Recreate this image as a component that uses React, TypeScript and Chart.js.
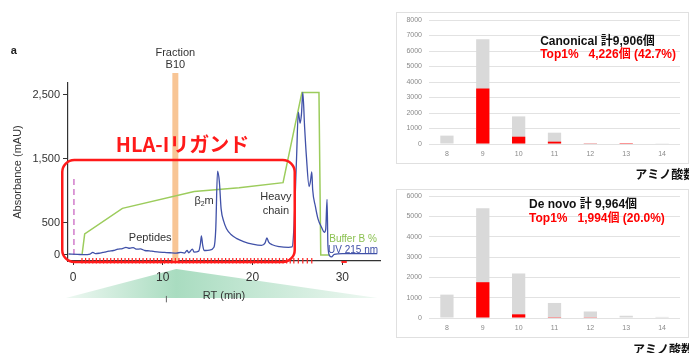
import React, { useEffect, useRef } from 'react';
import { Chart, registerables } from 'chart.js';

Chart.register(...registerables);

const FONT = "'Liberation Sans', Arial, 'Noto Sans CJK JP', sans-serif";
const JP_FONT = "'Noto Sans CJK JP', 'Liberation Sans', sans-serif";

// ---------------- Left panel: chromatogram ----------------
const rtTickValues = [0, 10, 20, 30];
const absTickValues = [0, 500, 1500, 2500];

const uvRT = [-0.5, 0.5, 1.2, 1.9, 2.2, 2.5, 3.0, 3.5, 4.0, 4.5, 5.0, 5.5, 5.9, 6.3, 6.7, 7.1, 7.5, 8.0, 8.5, 9.0, 9.6, 10.2, 10.8, 11.5, 12.0, 12.4, 12.7, 12.9, 13.3, 13.5, 14.0, 14.2, 14.3, 14.45, 14.6, 15.2, 15.7, 15.9, 16.1, 16.3, 16.5, 16.8, 17.1, 17.6, 18.2, 19.0, 20.0, 21.0, 21.4, 21.6, 21.8, 22.2, 23.0, 24.0, 24.4, 24.6, 24.9, 25.1, 25.3, 25.45, 25.6, 25.8, 26.0, 26.3, 26.45, 26.6, 26.7, 27.0, 27.3, 27.7, 28.0, 28.15, 28.3, 28.4, 28.6, 28.8, 29.1, 30.0, 33.9];
const uvAbs = [15, 10, 5, 15, 40, 20, 30, 45, 60, 70, 90, 100, 120, 105, 115, 90, 95, 70, 65, 55, 45, 40, 35, 30, 40, 30, 70, 35, 90, 45, 60, 180, 300, 150, 70, 75, 120, 400, 1310, 1150, 720, 520, 410, 320, 260, 210, 170, 150, 190, 265, 200, 160, 130, 120, 125, 400, 1500, 2230, 2060, 2200, 2540, 2000, 1540, 1070, 1150, 1300, 1020, 760, 560, 430, 355, 400, 870, 140, -15, -30, 10, 20, 20];

const bufferRT = [1.0, 1.3, 5.5, 13.5, 18.5, 23.4, 25.5, 27.4, 27.6, 28.6];
const bufferPct = [0, 13, 28.7, 39, 41.3, 44.5, 100, 100, 0, 0];

const fractionRT = [1.0, 1.4, 1.8, 2.2, 2.6, 3.0, 3.4, 3.8, 4.2, 4.6, 5.0, 5.4, 5.8, 6.2, 6.6, 7.0, 7.4, 7.8, 8.2, 8.6, 9.0, 9.4, 9.8, 10.2, 10.6, 11.0, 11.4, 11.8, 12.2, 12.6, 13.0, 13.4, 13.8, 14.2, 14.6, 15.0, 15.4, 15.8, 16.2, 16.6, 17.0, 17.4, 17.8, 18.2, 18.6, 19.0, 19.4, 19.8, 20.2, 20.6, 21.0, 21.4, 21.8, 22.2, 22.6, 23.0, 23.4, 23.8, 24.2, 24.6, 25.1, 25.6, 26.1, 26.6];
const wasteFractionRT = [29.9, 30.5];
const selectedFractionRT = 11.4;
const injectionRT = 0.1;
const injectionAbs = [0, 1210];

const RT_MIN = -0.56;
const RT_MAX = 34.2;
const ABS_MIN = -94;
const ABS_MAX = 2687;
const BUFFER_FULL_ABS = 2540; // absorbance level matching 100 % buffer B

// annotation anchors (data units)
const ligandBox = { rt0: -1.2, rt1: 24.7, abs0: -109, abs1: 1484 };
const wedge = { apexRT: 11.5, apexAbs: -219, fromRT: -0.8, toRT: 33.9, baseAbs: -672 };

const chromPlugin = {
  id: 'chromAnnotations',
  beforeDraw(chart: any) {
    const { ctx } = chart;
    const X = (v: number) => chart.scales.x.getPixelForValue(v);
    const Y = (v: number) => chart.scales.y.getPixelForValue(v);
    const ax = X(wedge.apexRT), ay = Y(wedge.apexAbs);
    const bl = X(wedge.fromRT), br = X(wedge.toRT), by = Y(wedge.baseAbs);
    const g = ctx.createLinearGradient(bl, 0, br, 0);
    const f = (ax - bl) / (br - bl);
    g.addColorStop(0, '#eef8f2');
    g.addColorStop(f, '#a9dcc0');
    g.addColorStop(1, '#eef8f2');
    ctx.save();
    ctx.beginPath();
    ctx.moveTo(ax, ay);
    ctx.lineTo(br, by);
    ctx.lineTo(bl, by);
    ctx.closePath();
    ctx.fillStyle = g;
    ctx.fill();
    ctx.strokeStyle = '#666';
    ctx.lineWidth = 1;
    ctx.beginPath();
    ctx.moveTo(X(10.4), Y(-640));
    ctx.lineTo(X(10.4), Y(-740));
    ctx.stroke();
    ctx.restore();
  },
  afterDatasetsDraw(chart: any) {
    const { ctx } = chart;
    const X = (v: number) => chart.scales.x.getPixelForValue(v);
    const Y = (v: number) => chart.scales.y.getPixelForValue(v);
    ctx.save();
    // red rounded box
    const x0 = X(ligandBox.rt0), x1 = X(ligandBox.rt1);
    const y0 = Y(ligandBox.abs1), y1 = Y(ligandBox.abs0);
    const r = 12;
    ctx.beginPath();
    ctx.moveTo(x0 + r, y0);
    ctx.arcTo(x1, y0, x1, y1, r);
    ctx.arcTo(x1, y1, x0, y1, r);
    ctx.arcTo(x0, y1, x0, y0, r);
    ctx.arcTo(x0, y0, x1, y0, r);
    ctx.closePath();
    ctx.strokeStyle = '#ff1a1a';
    ctx.lineWidth = 2.5;
    ctx.stroke();

    const text = (s: string, rt: number, abs: number, font: string, color: string, align: CanvasTextAlign = 'center') => {
      ctx.font = font;
      ctx.fillStyle = color;
      ctx.textAlign = align;
      ctx.textBaseline = 'middle';
      ctx.fillText(s, X(rt), Y(abs));
    };
    text('HLA-Iリガンド', 12.2, 1734, `bold 20px ${JP_FONT}`, '#ff1a1a');
    text('a', -6.6, 3188, `bold 11px ${FONT}`, '#222');
    text('Fraction', selectedFractionRT, 3156, `11px ${FONT}`, '#333');
    text('B10', selectedFractionRT, 2969, `11px ${FONT}`, '#333');
    text('Peptides', 8.6, 265, `11px ${FONT}`, '#333');
    text('Heavy', 22.6, 906, `11px ${FONT}`, '#333');
    text('chain', 22.6, 688, `11px ${FONT}`, '#333');
    text('Buffer B %', 31.2, 250, `10px ${FONT}`, '#8cc152');
    text('UV 215 nm', 31.2, 78, `10px ${FONT}`, '#3f4fa6');
    // beta2m with subscript
    ctx.font = `11px ${FONT}`;
    const wb = ctx.measureText('β').width;
    const wm = ctx.measureText('m').width;
    ctx.font = `7px ${FONT}`;
    const w2 = ctx.measureText('2').width;
    const cx = X(14.6), cy = Y(844);
    let sx = cx - (wb + w2 + wm) / 2;
    ctx.textAlign = 'left';
    ctx.textBaseline = 'middle';
    ctx.fillStyle = '#333';
    ctx.font = `11px ${FONT}`;
    ctx.fillText('β', sx, cy);
    sx += wb;
    ctx.font = `7px ${FONT}`;
    ctx.fillText('2', sx, cy + 3);
    sx += w2;
    ctx.font = `11px ${FONT}`;
    ctx.fillText('m', sx, cy);
    ctx.restore();
  },
};

function chromConfig(): any {
  const pts = (xs: number[], ys: number[]) => xs.map((x, i) => ({ x, y: ys[i] }));
  return {
    type: 'line',
    data: {
      datasets: [
        {
          label: 'Fractions',
          data: fractionRT.map((x) => ({ x, y: -90 })),
          showLine: false,
          pointStyle: 'line',
          rotation: 90,
          pointRadius: 2.8,
          pointBorderColor: '#ff2020',
          pointBorderWidth: 1.2,
          borderColor: '#ff2020',
          clip: false,
          order: 0,
        },
        {
          label: 'Waste',
          data: wasteFractionRT.map((x) => ({ x, y: -109 })),
          borderColor: '#ff2020',
          borderWidth: 2,
          pointRadius: 0,
          clip: false,
          order: 0,
        },
        {
          label: 'UV 215 nm',
          data: pts(uvRT, uvAbs),
          borderColor: '#4051a8',
          borderWidth: 1.3,
          pointRadius: 0,
          cubicInterpolationMode: 'monotone',
          order: 1,
        },
        {
          label: 'Buffer B %',
          data: pts(bufferRT, bufferPct),
          yAxisID: 'y2',
          borderColor: '#9ccc5c',
          borderWidth: 1.5,
          pointRadius: 0,
          order: 2,
        },
        {
          label: 'Injection',
          data: injectionAbs.map((y) => ({ x: injectionRT, y })),
          borderColor: '#d27ccb',
          borderWidth: 1.5,
          borderDash: [6, 4],
          pointRadius: 0,
          order: 3,
        },
        {
          label: 'Fraction B10',
          data: [{ x: selectedFractionRT, y: ABS_MIN }, { x: selectedFractionRT, y: 2844 }],
          borderColor: '#f8c595',
          borderWidth: 6,
          borderCapStyle: 'butt',
          pointRadius: 0,
          clip: false,
          order: 5,
        },
      ],
    },
    options: {
      responsive: false,
      animation: false,
      devicePixelRatio: 1,
      layout: { padding: { left: 0, top: 83, right: 20, bottom: 0 } },
      plugins: { legend: { display: false }, tooltip: { enabled: false } },
      scales: {
        x: {
          type: 'linear',
          min: RT_MIN,
          max: RT_MAX,
          afterBuildTicks: (s: any) => { s.ticks = rtTickValues.map((v) => ({ value: v })); },
          afterFit: (s: any) => { s.height = 92; },
          grid: { drawOnChartArea: false, drawTicks: true, tickLength: 4, color: '#333', lineWidth: 1 },
          border: { display: true, color: '#333', width: 1.2 },
          ticks: { color: '#333', font: { family: FONT, size: 12 }, padding: 5, maxRotation: 0, autoSkip: false, callback: (v: any) => String(v) },
          title: { display: true, text: 'RT (min)', color: '#333', font: { family: FONT, size: 11 }, padding: { top: 0, bottom: 50 } },
        },
        y: {
          type: 'linear',
          min: ABS_MIN,
          max: ABS_MAX,
          afterBuildTicks: (s: any) => { s.ticks = absTickValues.map((v) => ({ value: v })); },
          afterFit: (s: any) => { s.width = 68; },
          grid: { drawOnChartArea: false, drawTicks: true, tickLength: 5, color: '#333', lineWidth: 1 },
          border: { display: true, color: '#333', width: 1.2 },
          ticks: { color: '#333', font: { family: FONT, size: 11 }, padding: 3, autoSkip: false, callback: (v: any) => Number(v).toLocaleString('en-US') },
          title: { display: true, text: 'Absorbance (mAU)', color: '#333', font: { family: FONT, size: 11 }, padding: { top: 11, bottom: 0 } },
        },
        y2: {
          type: 'linear',
          display: false,
          min: (ABS_MIN / BUFFER_FULL_ABS) * 100,
          max: (ABS_MAX / BUFFER_FULL_ABS) * 100,
        },
      },
    },
    plugins: [chromPlugin],
  };
}

// ---------------- Right panels: peptide length distributions ----------------
const aminoAcidLengths = ['8', '9', '10', '11', '12', '13', '14'];
const canonicalTotal = [540, 6760, 1780, 730, 60, 20, 16];
const canonicalTop1 = [0, 3580, 470, 150, 20, 6, 0];
const deNovoTotal = [1150, 5400, 2190, 740, 320, 110, 54];
const deNovoTop1 = [0, 1760, 180, 40, 14, 0, 0];
const canonicalYMax = 8000;
const deNovoYMax = 6000;
const yStep = 1000;
const canonicalCaption = ['Canonical 計9,906個', 'Top1%   4,226個 (42.7%)'];
const deNovoCaption = ['De novo 計 9,964個', 'Top1%   1,994個 (20.0%)'];
const lengthAxisName = 'アミノ酸数';

type BarSpec = {
  totals: number[];
  top1: number[];
  yMax: number;
  padTop: number;
  axisH: number;
  caption: string[];
  captionAt: [number, number, number];
  axisNameAt: [number, number];
};

function barConfig(spec: BarSpec): any {
  const plugin = {
    id: 'barCaption',
    afterDraw(chart: any) {
      const { ctx } = chart;
      const X = (v: number) => chart.scales.x.getPixelForValue(v);
      const Y = (v: number) => chart.scales.y.getPixelForValue(v);
      ctx.save();
      ctx.textAlign = 'left';
      ctx.textBaseline = 'middle';
      ctx.font = `bold 12px ${FONT}`;
      ctx.fillStyle = '#111';
      ctx.fillText(spec.caption[0], X(spec.captionAt[0]), Y(spec.captionAt[1]));
      ctx.fillStyle = '#ff0000';
      ctx.fillText(spec.caption[1], X(spec.captionAt[0]), Y(spec.captionAt[2]));
      ctx.font = `bold 12px ${JP_FONT}`;
      ctx.fillStyle = '#111';
      ctx.fillText(lengthAxisName, X(spec.axisNameAt[0]), Y(spec.axisNameAt[1]));
      ctx.restore();
    },
  };
  return {
    type: 'bar',
    data: {
      labels: aminoAcidLengths,
      datasets: [
        { label: 'Top1%', data: spec.top1, backgroundColor: '#ff0000', order: 0, barPercentage: 0.37, categoryPercentage: 1 },
        { label: 'All', data: spec.totals, backgroundColor: '#d9d9d9', order: 1, barPercentage: 0.37, categoryPercentage: 1 },
      ],
    },
    options: {
      responsive: false,
      animation: false,
      devicePixelRatio: 1,
      layout: { padding: { left: 0, top: spec.padTop, right: 9, bottom: 0 } },
      plugins: { legend: { display: false }, tooltip: { enabled: false } },
      scales: {
        x: {
          stacked: true,
          afterFit: (s: any) => { s.height = spec.axisH; },
          grid: { display: false, drawTicks: false },
          border: { display: false },
          ticks: { color: '#8a8a8a', font: { family: FONT, size: 7 }, padding: 6, maxRotation: 0 },
        },
        y: {
          stacked: false,
          min: 0,
          max: spec.yMax,
          afterFit: (s: any) => { s.width = 29; },
          grid: { color: '#e2e2e2', drawTicks: false },
          border: { display: false },
          ticks: { stepSize: yStep, color: '#8a8a8a', font: { family: FONT, size: 7 }, padding: 7, callback: (v: any) => String(v) },
        },
      },
    },
    plugins: [plugin],
  };
}

export default function App() {
  const leftRef = useRef<HTMLCanvasElement>(null);
  const topRef = useRef<HTMLCanvasElement>(null);
  const botRef = useRef<HTMLCanvasElement>(null);

  useEffect(() => {
    const charts = [
      new Chart(leftRef.current as HTMLCanvasElement, chromConfig()),
      new Chart(topRef.current as HTMLCanvasElement, barConfig({
        totals: canonicalTotal, top1: canonicalTop1, yMax: canonicalYMax, padTop: 20, axisH: 39,
        caption: canonicalCaption, captionAt: [2.6, 6580, 5740], axisNameAt: [5.25, -1968],
      })),
      new Chart(botRef.current as HTMLCanvasElement, barConfig({
        totals: deNovoTotal, top1: deNovoTop1, yMax: deNovoYMax, padTop: 21, axisH: 35,
        caption: deNovoCaption, captionAt: [2.29, 5557, 4869], axisNameAt: [5.19, -1549],
      })),
    ];
    return () => charts.forEach((c) => c.destroy());
  }, []);

  return (
    <div style={{ position: 'fixed', left: 0, top: 0, width: 693, height: 353, background: '#fff', overflow: 'hidden' }}>
      <div style={{ position: 'absolute', left: 396, top: 12, width: 291, height: 150, border: '1px solid #e0e0e0' }} />
      <div style={{ position: 'absolute', left: 396, top: 189, width: 291, height: 147, border: '1px solid #e0e0e0' }} />
      <canvas ref={leftRef} width={400} height={353} style={{ position: 'absolute', left: 0, top: 0, width: 400, height: 353 }} />
      <canvas ref={topRef} width={289} height={183} style={{ position: 'absolute', left: 400, top: 0, width: 289, height: 183 }} />
      <canvas ref={botRef} width={289} height={178} style={{ position: 'absolute', left: 400, top: 175, width: 289, height: 178 }} />
    </div>
  );
}
